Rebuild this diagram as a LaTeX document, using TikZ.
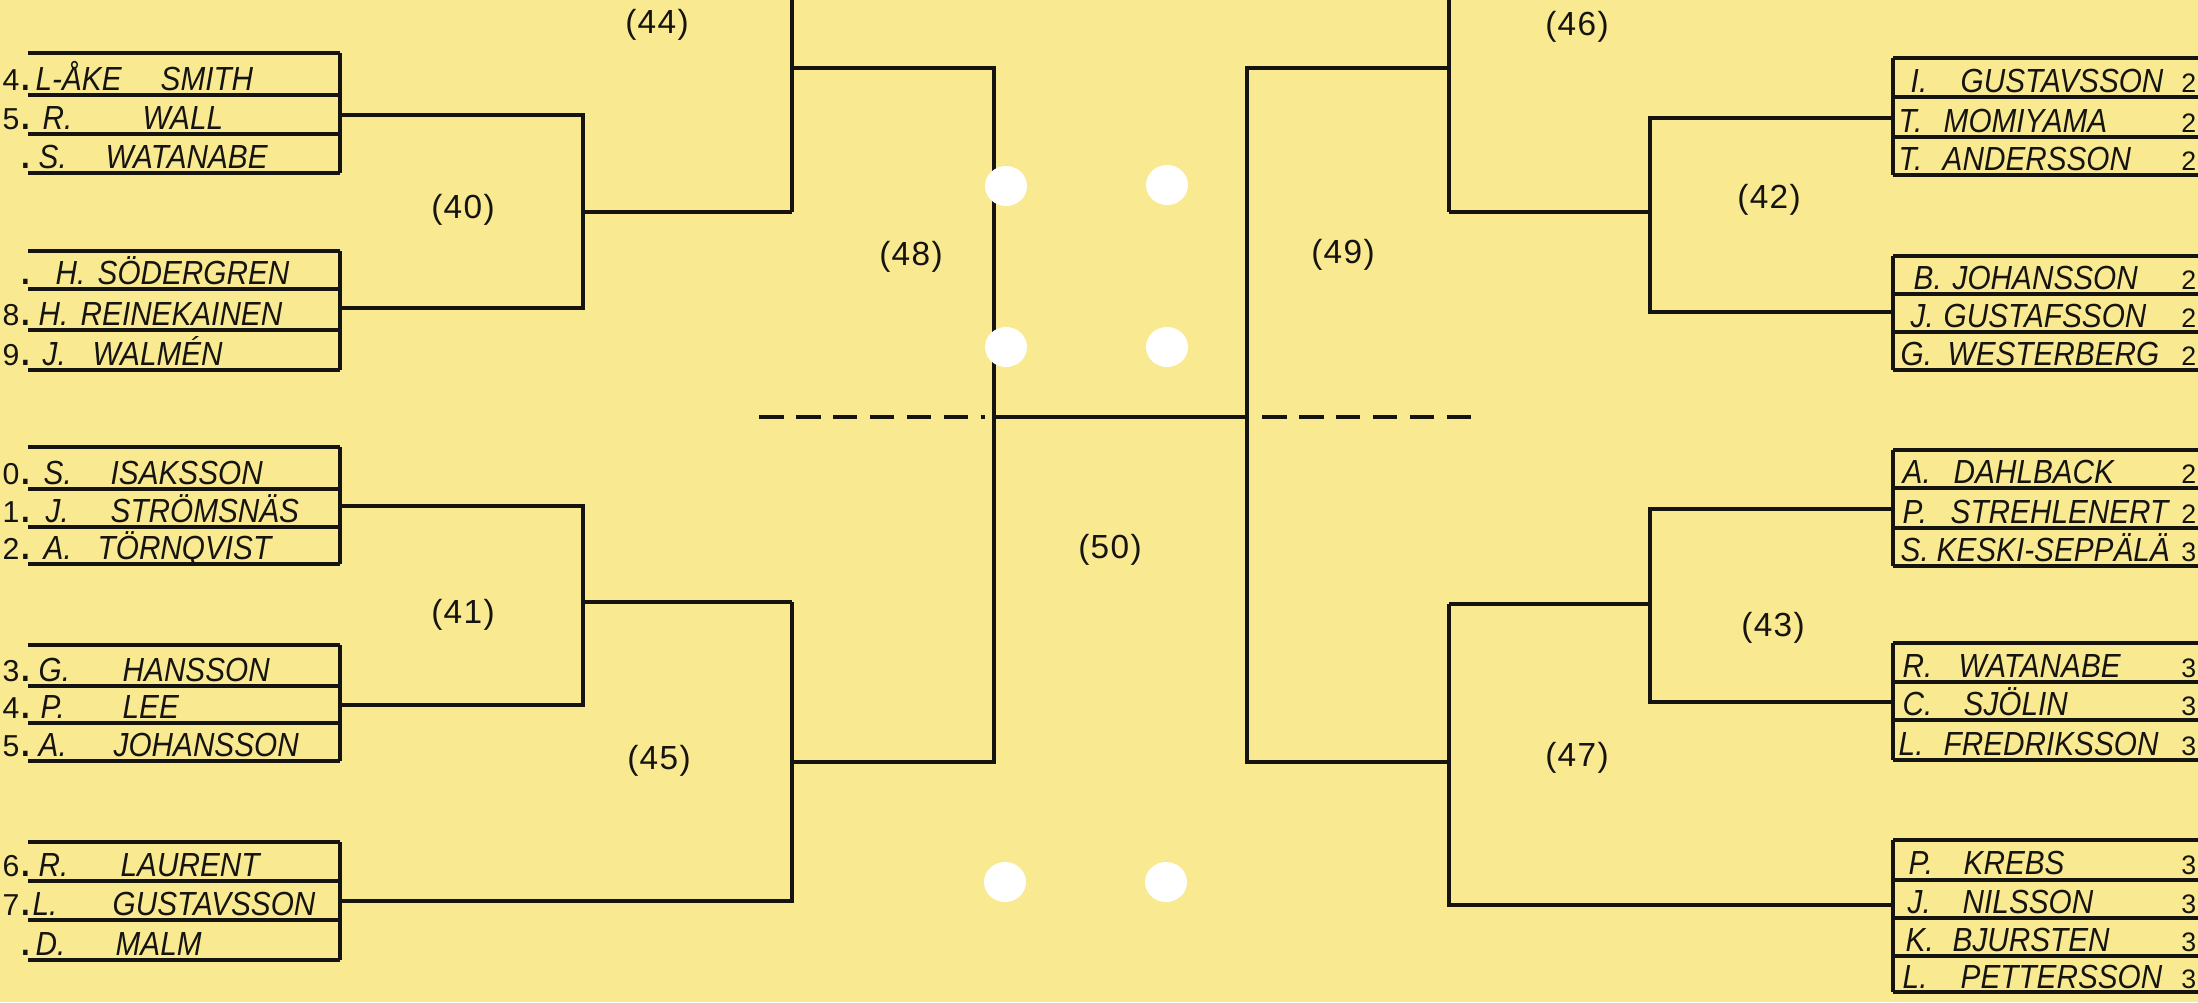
\documentclass[tikz,border=0pt]{standalone}
\usepackage{fontspec}
\setmainfont{Liberation Sans}
\newfontfamily\handfont[FakeStretch=0.89]{Liberation Sans}
\newfontfamily\numfont{Liberation Sans}
\newfontfamily\lblfont[LetterSpace=4]{Liberation Sans}
\definecolor{paper}{RGB}{249,233,144}
\definecolor{ink}{RGB}{22,20,16}
\newcommand\nd[1]{{\numfont\fontsize{8.6}{9}\selectfont #1}\kern0.6pt{\fontsize{10}{10}\selectfont\bfseries.}}
\newcommand\lrow[7]{%
  \node[numtxt] (#1n) at (31,#2) {#3};
  \node[hand] (#1i) at (#4,#2) {#5};
  \node[hand] (#1s) at (#6,#2) {#7};}
\newcommand\rrow[7]{%
  \node[hand] (#1i) at (#3,#2) {#4};
  \node[hand] (#1s) at (#5,#2) {#6};
  \node[rnum] (#1n) at (2197,#2) {#7};}
\begin{document}
\begin{tikzpicture}[x=0.01cm,y=-0.01cm,
  hand/.style={anchor=base west, inner sep=0pt, text=ink, font=\handfont\itshape\fontsize{9.5}{10}\selectfont},
  numtxt/.style={anchor=base east, inner sep=0pt, text=ink, font=\handfont},
  rnum/.style={anchor=base east, inner sep=0pt, text=ink, font=\numfont\fontsize{7.6}{10}\selectfont},
  lbl/.style={inner sep=0pt, text=ink, font=\lblfont\fontsize{9.5}{10}\selectfont},
  br/.style={draw=ink, line width=1pt},
  box/.style={draw=ink, line width=0.95pt},
  dsh/.style={draw=ink, line width=1pt, dash pattern=on 7pt off 3.5pt},
  hole/.style={fill=white}]
\useasboundingbox (0,0) rectangle (2198,1002);
\clip (0,0) rectangle (2198,1002);
\fill[paper] (0,0) rectangle (2198,1002);

% ---------- left entry boxes ----------
\foreach \a/\b/\c/\d in {53/95/134/173, 251/289/330/370, 447/489/527/564, 645/686/723/761, 842/881/920/960}{
  \foreach \y in {\a,\b,\c,\d} \draw[box] (28,\y) -- (340,\y);
  \draw[box] (340,\a) -- (340,\d);
}
% ---------- right entry boxes ----------
\foreach \a/\d/\l in {58/175/{58,97,137,175}, 256/370/{256,294,332,370}, 450/566/{450,488,528,566}, 643/760/{643,682,720,760}, 840/992/{840,880,918,956,992}}{
  \foreach \y in \l \draw[box] (1893,\y) -- (2205,\y);
  \draw[box] (1893,\a) -- (1893,\d);
}

% ---------- coordinates ----------
\coordinate (Ac) at (340,115);
\coordinate (Bc) at (340,308);
\coordinate (Cc) at (340,506);
\coordinate (Dc) at (340,705);
\coordinate (Ec) at (340,901);
\coordinate (Fc) at (1893,118);
\coordinate (Gc) at (1893,312);
\coordinate (Hc) at (1893,509);
\coordinate (Ic) at (1893,702);
\coordinate (Jc) at (1893,905);
\coordinate (w40) at (583,212);
\coordinate (w41) at (583,602);
\coordinate (w44) at (792,68);
\coordinate (w45) at (792,762);
\coordinate (w48) at (994,417);
\coordinate (w49) at (1247,417);
\coordinate (w46) at (1449,68);
\coordinate (w47) at (1449,762);
\coordinate (w42) at (1650,212);
\coordinate (w43) at (1650,604);
\coordinate (topL) at (792,-5);
\coordinate (topR) at (1449,-5);
\coordinate (dl1) at (759,417);
\coordinate (dl2) at (985,417);
\coordinate (dr1) at (1262,417);
\coordinate (dr2) at (1482,417);

% ---------- left bracket ----------
\draw[br] (Ac) -| (w40 |- Bc) -- (Bc);
\draw[br] (Cc) -| (w41 |- Dc) -- (Dc);
\draw[br] (w40) -- (w40 -| w44);
\draw[br] (w41) -- (w41 -| w45);
\draw[br] (topL) -- (w44 |- w40);
\draw[br] (w45 |- w41) -- (w45 |- Ec) -- (Ec);
\draw[br] (w44) -| (w48 |- w45) -- (w45);
\draw[br] (w48) -- (w49);
% ---------- right bracket ----------
\draw[br] (Fc) -| (w42 |- Gc) -- (Gc);
\draw[br] (Hc) -| (w43 |- Ic) -- (Ic);
\draw[br] (w42) -- (w42 -| w46);
\draw[br] (w43) -- (w43 -| w47);
\draw[br] (topR) -- (w46 |- w42);
\draw[br] (w47 |- w43) -- (w47 |- Jc) -- (Jc);
\draw[br] (w46) -| (w49 |- w47) -- (w47);
% ---------- dashed ----------
\draw[dsh] (dl1) -- (dl2);
\draw[dsh] (dr1) -- (dr2);

% ---------- punched holes ----------
\foreach \hx/\hy in {1006/186, 1167/185, 1006/347, 1167/347, 1005/882, 1166/882}
  \fill[hole] (\hx,\hy) ellipse [x radius=0.21cm, y radius=0.20cm];

% ---------- match labels ----------
\node[lbl] (l44) at (657,25) {(44)};
\node[lbl] (l40) at (463,210) {(40)};
\node[lbl] (l48) at (911,257) {(48)};
\node[lbl] (l41) at (463,615) {(41)};
\node[lbl] (l45) at (659,761) {(45)};
\node[lbl] (l50) at (1110,550) {(50)};
\node[lbl] (l49) at (1343,255) {(49)};
\node[lbl] (l46) at (1577,27) {(46)};
\node[lbl] (l42) at (1769,200) {(42)};
\node[lbl] (l43) at (1773,628) {(43)};
\node[lbl] (l47) at (1577,758) {(47)};

% ---------- left names ----------
\lrow{a1}{90}{\nd{4}}{35}{L-ÅKE}{160}{SMITH}
\lrow{a2}{129}{\nd{5}}{42}{R.}{142}{WALL}
\lrow{a3}{168}{\nd{}}{38}{S.}{105}{WATANABE}
\lrow{b1}{284}{\nd{}}{55}{H.}{97}{SÖDERGREN}
\lrow{b2}{325}{\nd{8}}{38}{H.}{80}{REINEKAINEN}
\lrow{b3}{365}{\nd{9}}{42}{J.}{92}{WALMÉN}
\lrow{c1}{484}{\nd{0}}{43}{S.}{110}{ISAKSSON}
\lrow{c2}{522}{\nd{1}}{45}{J.}{110}{STRÖMSNÄS}
\lrow{c3}{559}{\nd{2}}{43}{A.}{97}{TÖRNQVIST}
\lrow{d1}{681}{\nd{3}}{38}{G.}{122}{HANSSON}
\lrow{d2}{718}{\nd{4}}{40}{P.}{122}{LEE}
\lrow{d3}{756}{\nd{5}}{38}{A.}{113}{JOHANSSON}
\lrow{e1}{876}{\nd{6}}{38}{R.}{120}{LAURENT}
\lrow{e2}{915}{\nd{7}}{32}{L.}{112}{GUSTAVSSON}
\lrow{e3}{955}{\nd{}}{35}{D.}{115}{MALM}

% ---------- right names ----------
\rrow{f1}{92}{1910}{I.}{1960}{GUSTAVSSON}{2}
\rrow{f2}{132}{1898}{T.}{1943}{MOMIYAMA}{2}
\rrow{f3}{170}{1898}{T.}{1942}{ANDERSSON}{2}
\rrow{g1}{289}{1913}{B.}{1952}{JOHANSSON}{2}
\rrow{g2}{327}{1910}{J.}{1943}{GUSTAFSSON}{2}
\rrow{g3}{365}{1900}{G.}{1947}{WESTERBERG}{2}
\rrow{h1}{483}{1902}{A.}{1953}{DAHLBACK}{2}
\rrow{h2}{523}{1902}{P.}{1950}{STREHLENERT}{2}
\rrow{h3}{561}{1900}{S.}{1936}{KESKI-SEPPÄLÄ}{3}
\rrow{i1}{677}{1902}{R.}{1958}{WATANABE}{3}
\rrow{i2}{715}{1902}{C.}{1963}{SJÖLIN}{3}
\rrow{i3}{755}{1898}{L.}{1943}{FREDRIKSSON}{3}
\rrow{j1}{874}{1908}{P.}{1963}{KREBS}{3}
\rrow{j2}{913}{1907}{J.}{1962}{NILSSON}{3}
\rrow{j3}{951}{1905}{K.}{1952}{BJURSTEN}{3}
\rrow{j4}{988}{1902}{L.}{1960}{PETTERSSON}{3}
\end{tikzpicture}
\end{document}
